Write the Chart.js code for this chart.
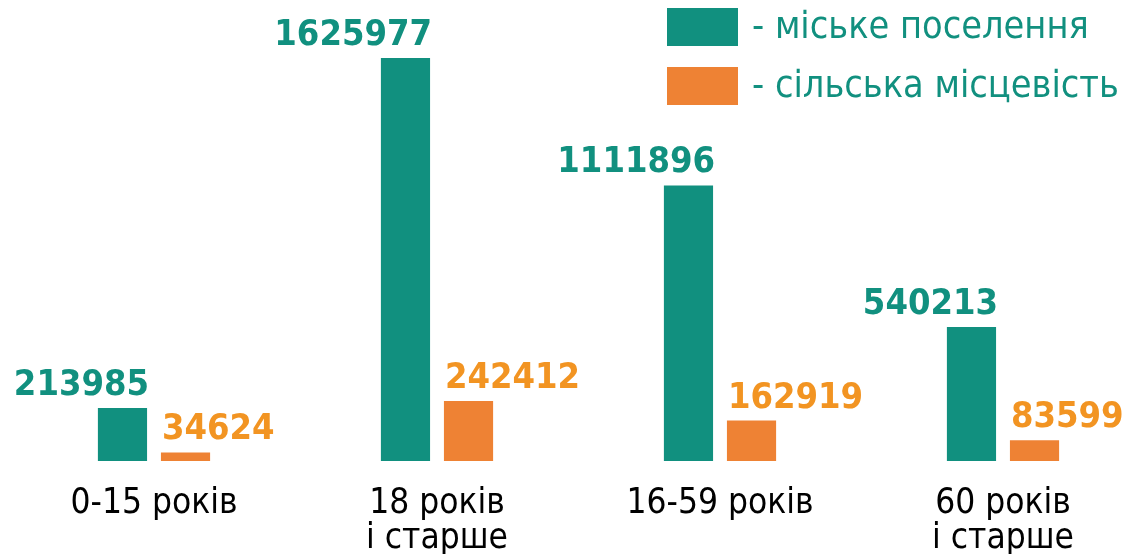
<!DOCTYPE html>
<html lang="uk">
<head>
<meta charset="utf-8">
<title>Населення за віком</title>
<script src="https://cdn.jsdelivr.net/npm/chart.js@4/dist/chart.umd.min.js"></script>
<style>
    html, body { margin: 0; padding: 0; background: #fff; overflow: hidden; }
    #wrap { width: 1129px; height: 554px; position: relative; }
</style>
</head>
<body>
<div id="wrap"><canvas id="ageChart"></canvas></div>
<script>
const categories = [['0-15 років'], ['18 років', 'і старше'], ['16-59 років'], ['60 років', 'і старше']];
const seriesNames = ['- міське поселення', '- сільська місцевість'];
const urban = [213985, 1625977, 1111896, 540213];
const rural = [34624, 242412, 162919, 83599];

const FONT = "'DejaVu Sans Condensed', 'DejaVu Sans', sans-serif";
const TEAL = '#11907F';
const ORANGE = '#EE8234';
const ORANGE_TEXT = '#F29422';

// Numbers above the bars: urban ones end at the bar's right edge, rural ones start at the left edge
const valueLabels = {
    id: 'valueLabels',
    afterDatasetsDraw(chart) {
        const ctx = chart.ctx;
        ctx.save();
        ctx.font = 'bold 36px ' + FONT;
        ctx.textBaseline = 'alphabetic';
        chart.data.datasets.forEach((ds, i) => {
            chart.getDatasetMeta(i).data.forEach((bar, j) => {
                const half = bar.width / 2;
                if (i === 0) {
                    ctx.fillStyle = TEAL;
                    ctx.textAlign = 'right';
                    ctx.fillText(ds.data[j], bar.x + half + 2, bar.y - 13);
                } else {
                    ctx.fillStyle = ORANGE_TEXT;
                    ctx.textAlign = 'left';
                    ctx.fillText(ds.data[j], bar.x - half + 1, bar.y - 13);
                }
            });
        });
        ctx.restore();
    }
};

// Legend drawn in the top right corner
const cornerLegend = {
    id: 'cornerLegend',
    afterDraw(chart) {
        const ctx = chart.ctx;
        ctx.save();
        ctx.font = '37.5px ' + FONT;
        ctx.textBaseline = 'middle';
        ctx.textAlign = 'left';
        chart.data.datasets.forEach((ds, i) => {
            const y = 8 + i * 59;
            ctx.fillStyle = ds.backgroundColor;
            ctx.fillRect(667, y, 71, 38);
            ctx.fillStyle = TEAL;
            ctx.fillText(ds.label, 752, y + 20);
        });
        ctx.restore();
    }
};

new Chart(document.getElementById('ageChart'), {
    type: 'bar',
    data: {
        labels: categories,
        datasets: [
            { label: seriesNames[0], data: urban, backgroundColor: TEAL },
            { label: seriesNames[1], data: rural, backgroundColor: ORANGE }
        ]
    },
    options: {
        responsive: true,
        maintainAspectRatio: false,
        animation: false,
        layout: { padding: { left: 154, right: 126, top: 0, bottom: -27 } },
        datasets: {
            bar: { categoryPercentage: 0.4455, barPercentage: 0.78, clip: false }
        },
        scales: {
            x: {
                offset: false,
                grid: { display: false, drawTicks: false },
                border: { display: false },
                ticks: {
                    padding: 25,
                    color: '#000',
                    font: { family: FONT, size: 35, lineHeight: 1.0 }
                }
            },
            y: {
                display: false,
                min: 0,
                max: 1860000
            }
        },
        plugins: {
            legend: { display: false },
            tooltip: { enabled: false }
        }
    },
    plugins: [valueLabels, cornerLegend]
});
</script>
</body>
</html>
